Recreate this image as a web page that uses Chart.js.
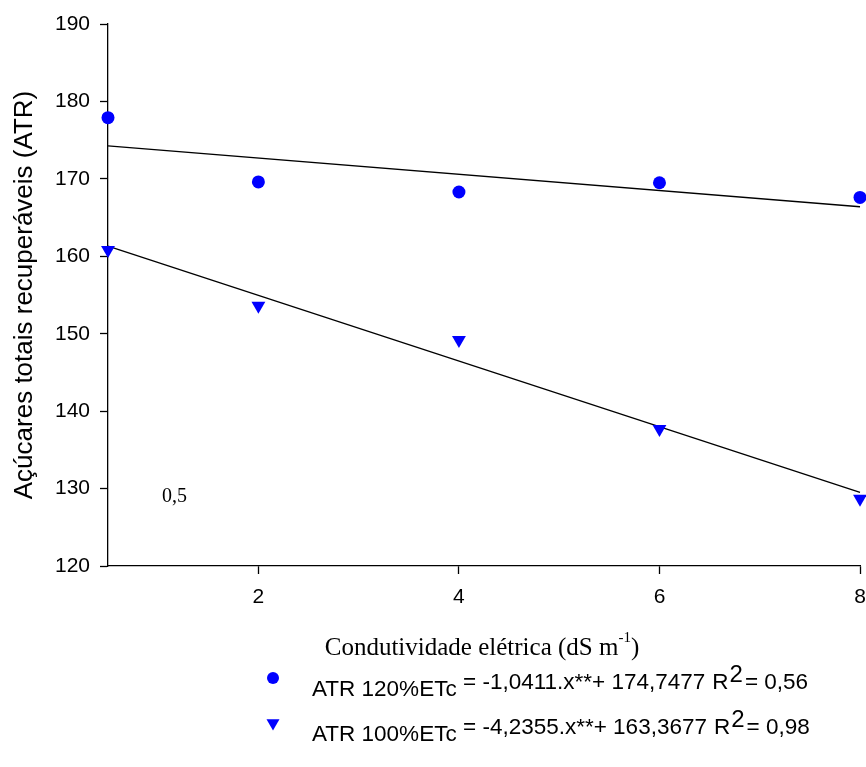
<!DOCTYPE html>
<html>
<head>
<meta charset="utf-8">
<script src="https://cdn.jsdelivr.net/npm/chart.js@4/dist/chart.umd.min.js"></script>
<style>
  html, body { margin: 0; padding: 0; background: #fff; }
  #wrap { width: 866px; height: 767px; }
</style>
</head>
<body>
<div id="wrap"><canvas id="atrChart" width="866" height="767"></canvas></div>
<script>
// condutividade elétrica (dS m-1)
const xValues = [0.5, 2, 4, 6, 8];
const atr120 = [177.9, 169.6, 168.3, 169.5, 167.6];
const atr100 = [160.8, 153.6, 149.2, 137.7, 128.7];

// ajustes lineares (extremos)
const fitX = [0.5, 8];
const fit120 = [174.25, 166.4];
const fit100 = [161.3, 129.5];

const xTicks = [2, 4, 6, 8];
const yTicks = [120, 130, 140, 150, 160, 170, 180, 190];

const legendLabels = ['ATR 120%ETc', 'ATR 100%ETc'];
const legendEquations = ['= -1,0411.x**+ 174,7477', '= -4,2355.x**+ 163,3677'];
const legendR2 = ['0,56', '0,98'];

const blue = '#0000ff';
const sans = '"Liberation Sans", Arial, sans-serif';
const serif = '"Liberation Serif", "Times New Roman", serif';

function toPoints(xs, ys) {
  return xs.map((x, i) => ({ x: x, y: ys[i] }));
}

const extraText = {
  id: 'extraText',
  afterDraw(chart) {
    const ctx = chart.ctx;
    ctx.save();
    ctx.fillStyle = '#000';

    // rótulo solto dentro do gráfico
    ctx.font = '20px ' + serif;
    ctx.textBaseline = 'middle';
    ctx.textAlign = 'left';
    ctx.fillText('0,5', 162, 497);

    // título do eixo x com expoente
    const main = 'Condutividade elétrica (dS m';
    const sup = '-1';
    ctx.font = '25px ' + serif;
    const w1 = ctx.measureText(main).width;
    ctx.font = '15px ' + serif;
    const w2 = ctx.measureText(sup).width;
    ctx.font = '25px ' + serif;
    const w3 = ctx.measureText(')').width;
    let tx = 482 - (w1 + w2 + w3) / 2;
    const ty = 648;
    ctx.fillText(main, tx, ty);
    tx += w1;
    ctx.font = '15px ' + serif;
    ctx.fillText(sup, tx, ty - 10);
    tx += w2;
    ctx.font = '25px ' + serif;
    ctx.fillText(')', tx, ty);

    // legenda
    const rows = [683, 728];
    rows.forEach((ry, i) => {
      const mx = 273;
      ctx.fillStyle = blue;
      ctx.beginPath();
      if (i === 0) {
        ctx.arc(mx, ry - 5, 6, 0, Math.PI * 2);
      } else {
        const r = 7.5;
        const cy = ry - 5;
        ctx.moveTo(mx - r * 0.866, cy - r / 2);
        ctx.lineTo(mx + r * 0.866, cy - r / 2);
        ctx.lineTo(mx, cy + r);
        ctx.closePath();
      }
      ctx.fill();

      ctx.fillStyle = '#000';
      ctx.font = '22.5px ' + sans;
      ctx.fillText(legendLabels[i], 312, ry + 7);
      ctx.fillText(legendEquations[i], 463, ry);
      const eqw = ctx.measureText(legendEquations[i]).width;
      let lx = 463 + eqw + 7;
      ctx.fillText('R', lx, ry);
      lx += ctx.measureText('R').width + 1;
      ctx.font = '24px ' + sans;
      ctx.fillText('2', lx, ry - 8);
      lx += ctx.measureText('2').width + 2;
      ctx.font = '22.5px ' + sans;
      ctx.fillText('= ' + legendR2[i], lx, ry);
    });
    ctx.restore();
  }
};

new Chart(document.getElementById('atrChart'), {
  type: 'scatter',
  data: {
    datasets: [
      {
        label: legendLabels[0],
        data: toPoints(xValues, atr120),
        pointStyle: 'circle',
        pointRadius: 6.5,
        backgroundColor: blue,
        borderColor: blue,
        borderWidth: 0,
        clip: false
      },
      {
        label: legendLabels[1],
        data: toPoints(xValues, atr100),
        pointStyle: 'triangle',
        rotation: 180,
        pointRadius: 8,
        backgroundColor: blue,
        borderColor: blue,
        borderWidth: 0,
        clip: false
      },
      {
        type: 'line',
        label: 'ajuste 120',
        data: toPoints(fitX, fit120),
        borderColor: '#000',
        borderWidth: 1.3,
        pointRadius: 0,
        fill: false,
        clip: false
      },
      {
        type: 'line',
        label: 'ajuste 100',
        data: toPoints(fitX, fit100),
        borderColor: '#000',
        borderWidth: 1.3,
        pointRadius: 0,
        fill: false,
        clip: false
      }
    ]
  },
  options: {
    responsive: false,
    animation: false,
    layout: { autoPadding: false, padding: { top: 24, right: 6, bottom: 0, left: 0 } },
    plugins: {
      legend: { display: false },
      tooltip: { enabled: false }
    },
    scales: {
      x: {
        type: 'linear',
        min: 0.5,
        max: 8,
        afterBuildTicks: axis => { axis.ticks = xTicks.map(v => ({ value: v })); },
        afterFit: axis => {
          axis.height = 201;
          axis.paddingLeft = 0;
          axis.paddingRight = 0;
        },
        border: { display: true, color: '#000', width: 1.3 },
        grid: { drawOnChartArea: false, drawTicks: true, tickLength: 8, color: '#000', tickWidth: 1.3 },
        ticks: { color: '#000', font: { family: sans, size: 21 }, padding: 11 }
      },
      y: {
        type: 'linear',
        min: 120,
        max: 190,
        afterBuildTicks: axis => { axis.ticks = yTicks.map(v => ({ value: v })); },
        afterFit: axis => { axis.width = 108; },
        border: { display: true, color: '#000', width: 1.3 },
        grid: { drawOnChartArea: false, drawTicks: true, tickLength: 8, color: '#000', tickWidth: 1.3 },
        ticks: { color: '#000', font: { family: sans, size: 21 }, padding: 10 },
        title: {
          display: true,
          text: 'Açúcares totais recuperáveis (ATR)',
          color: '#000',
          font: { family: sans, size: 26 },
          padding: { top: 9, bottom: 0 }
        }
      }
    }
  },
  plugins: [extraText]
});
</script>
</body>
</html>
